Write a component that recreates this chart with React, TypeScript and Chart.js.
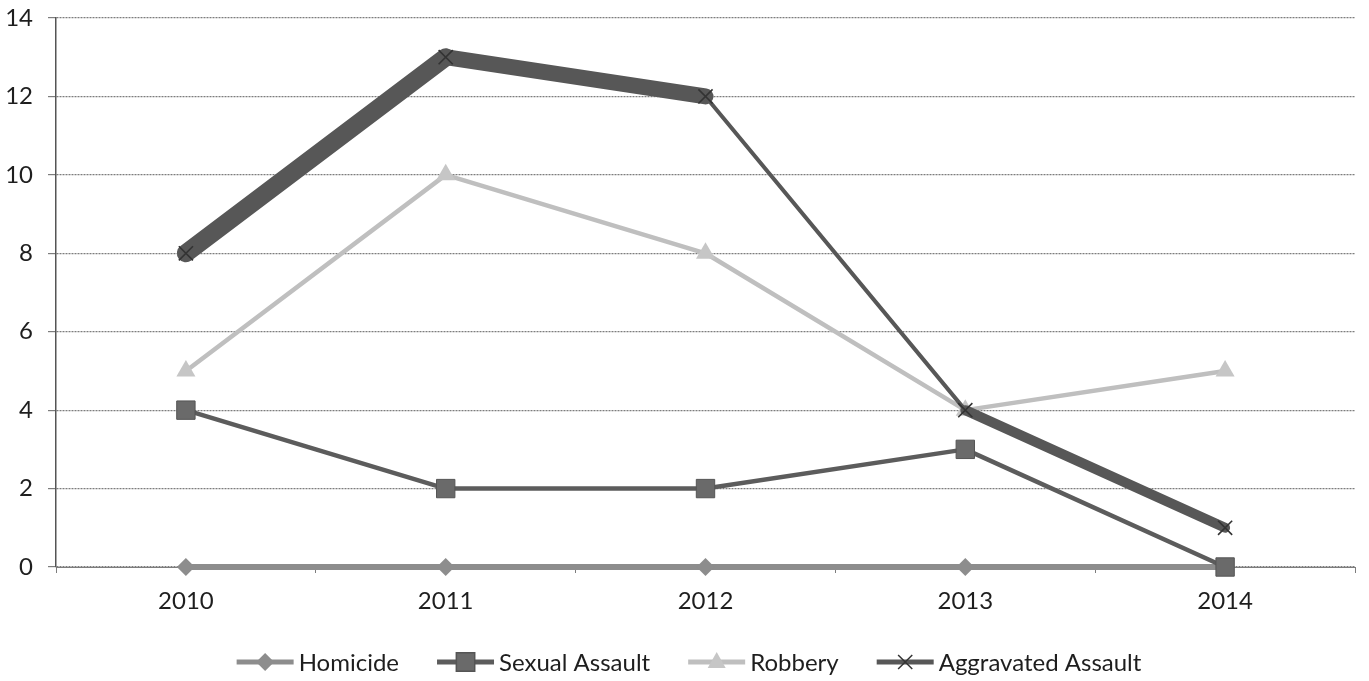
import React, { useEffect, useRef } from "react";
import { Chart, registerables } from "chart.js";

Chart.register(...registerables);

// ---- data ----
const categories = ["2010", "2011", "2012", "2013", "2014"];
const homicide = [0, 0, 0, 0, 0];
const sexualAssault = [4, 2, 2, 3, 0];
const robbery = [5, 10, 8, 4, 5];
const aggravatedAssault = [8, 13, 12, 4, 1];
const yTickValues = [0, 2, 4, 6, 8, 10, 12, 14];
const seriesNames = ["Homicide", "Sexual Assault", "Robbery", "Aggravated Assault"];

// ---- styles ----
const FONT = "Lato";
const TEXT_COLOR = "#1e1e1e";
const GRID_COLOR = "#7d7d7d";
const styles = [
  { line: "#8d8d8d", fill: "#8d8d8d", stroke: "#8d8d8d", width: 6, point: "rectRot", radius: 9 },
  { line: "#5c5c5c", fill: "#6a6a6a", stroke: "#555555", width: 4.5, point: "rect", radius: 13 },
  { line: "#bfbfbf", fill: "#c6c6c6", stroke: "#b5b5b5", width: 4.5, point: "triangle", radius: 11 },
  { line: "#575757", fill: "#333333", stroke: "#333333", width: 4, point: "crossRot", radius: 10 },
];
const aggravatedSegmentWidths = [18, 16, 4, 10];

function drawMarker(ctx: CanvasRenderingContext2D, kind: string, x: number, y: number, r: number, fill: string, stroke: string) {
  ctx.save();
  ctx.fillStyle = fill;
  ctx.strokeStyle = stroke;
  ctx.lineWidth = 1.5;
  ctx.beginPath();
  if (kind === "rectRot") {
    ctx.moveTo(x, y - r);
    ctx.lineTo(x + r, y);
    ctx.lineTo(x, y + r);
    ctx.lineTo(x - r, y);
    ctx.closePath();
    ctx.fill();
  } else if (kind === "rect") {
    const s = r * Math.SQRT1_2;
    ctx.rect(x - s, y - s, 2 * s, 2 * s);
    ctx.fill();
    ctx.stroke();
  } else if (kind === "triangle") {
    ctx.moveTo(x, y - r);
    ctx.lineTo(x + r * 0.9, y + r * 0.6);
    ctx.lineTo(x - r * 0.9, y + r * 0.6);
    ctx.closePath();
    ctx.fill();
  } else {
    const d = r * Math.SQRT1_2;
    ctx.moveTo(x - d, y - d);
    ctx.lineTo(x + d, y + d);
    ctx.moveTo(x + d, y - d);
    ctx.lineTo(x - d, y + d);
    ctx.stroke();
  }
  ctx.restore();
}

const legendPlugin = {
  id: "customLegend",
  afterDraw(chart: any) {
    const ctx: CanvasRenderingContext2D = chart.ctx;
    ctx.save();
    ctx.font = `24px ${FONT}`;
    ctx.textBaseline = "middle";
    ctx.textAlign = "left";
    const iconW = 57;
    const gapText = 5;
    const gapItem = 38;
    const widths = seriesNames.map((n) => ctx.measureText(n).width);
    const total = widths.reduce((a, w) => a + iconW + gapText + w, 0) + gapItem * (seriesNames.length - 1);
    let x = 689 - total / 2;
    const y = 662;
    seriesNames.forEach((name, i) => {
      const st = styles[i];
      ctx.save();
      ctx.strokeStyle = st.line;
      ctx.lineWidth = 5;
      ctx.beginPath();
      ctx.moveTo(x, y);
      ctx.lineTo(x + iconW, y);
      ctx.stroke();
      ctx.restore();
      const r = st.point === "rect" ? 13 : st.point === "rectRot" ? 9 : 10;
      drawMarker(ctx, st.point, x + iconW / 2, y, r, st.fill, st.stroke);
      ctx.fillStyle = TEXT_COLOR;
      ctx.fillText(name, x + iconW + gapText, y + 1);
      x += iconW + gapText + widths[i] + gapItem;
    });
    ctx.restore();
  },
};

export default function App() {
  const canvasRef = useRef<HTMLCanvasElement | null>(null);

  useEffect(() => {
    document.body.style.margin = "0";
    document.body.style.background = "#ffffff";
    const canvas = canvasRef.current;
    if (!canvas) return;
    const seriesData = [homicide, sexualAssault, robbery, aggravatedAssault];
    const chart = new Chart(canvas, {
      type: "line",
      data: {
        labels: categories,
        datasets: seriesData.map((d, i) => {
          const st = styles[i];
          const ds: any = {
            label: seriesNames[i],
            data: d,
            borderColor: st.line,
            borderWidth: st.width,
            backgroundColor: st.fill,
            pointStyle: st.point,
            pointRadius: st.radius,
            pointHoverRadius: st.radius,
            pointBackgroundColor: st.fill,
            pointBorderColor: st.stroke,
            pointBorderWidth: st.point === "crossRot" ? 1.6 : st.point === "rect" ? 1 : 0,
            tension: 0,
            fill: false,
            clip: false,
            borderJoinStyle: "round",
            borderCapStyle: "round",
            order: seriesData.length - i,
          };
          if (i === 3) {
            ds.segment = {
              borderWidth: (c: any) => aggravatedSegmentWidths[c.p0DataIndex],
            };
          }
          return ds;
        }),
      },
      options: {
        responsive: false,
        animation: false,
        devicePixelRatio: 1,
        layout: { padding: { top: 18, right: 12, bottom: 54, left: 0 } },
        plugins: {
          legend: { display: false },
          tooltip: { enabled: false },
        },
        scales: {
          x: {
            type: "category",
            offset: true,
            grid: {
              display: true,
              drawOnChartArea: false,
              drawTicks: true,
              tickLength: 6,
              offset: true,
              color: GRID_COLOR,
            },
            border: { display: true, color: GRID_COLOR, width: 1 },
            ticks: {
              color: TEXT_COLOR,
              font: { family: FONT, size: 24 },
              padding: 14,
              maxRotation: 0,
            },
            afterFit: (s: any) => {
              s.height = 60;
              s.paddingLeft = 0;
              s.paddingRight = 0;
            },
          },
          y: {
            min: 0,
            max: 14,
            afterBuildTicks: (s: any) => {
              s.ticks = yTickValues.map((v) => ({ value: v }));
            },
            grid: {
              color: GRID_COLOR,
              lineWidth: 1.2,
              tickLength: 8,
              drawTicks: true,
            },
            border: { display: true, color: "#555555", width: 1.5, dash: [2, 1] },
            ticks: {
              color: TEXT_COLOR,
              font: { family: FONT, size: 24 },
              padding: 15,
            },
            afterFit: (s: any) => {
              s.width = 56;
              s.paddingTop = 0;
              s.paddingBottom = 0;
            },
          },
        },
      } as any,
      plugins: [legendPlugin],
    });
    return () => chart.destroy();
  }, []);

  return (
    <div style={{ width: 1369, height: 681, background: "#ffffff" }}>
      <canvas ref={canvasRef} width={1369} height={681} style={{ display: "block" }} />
    </div>
  );
}
